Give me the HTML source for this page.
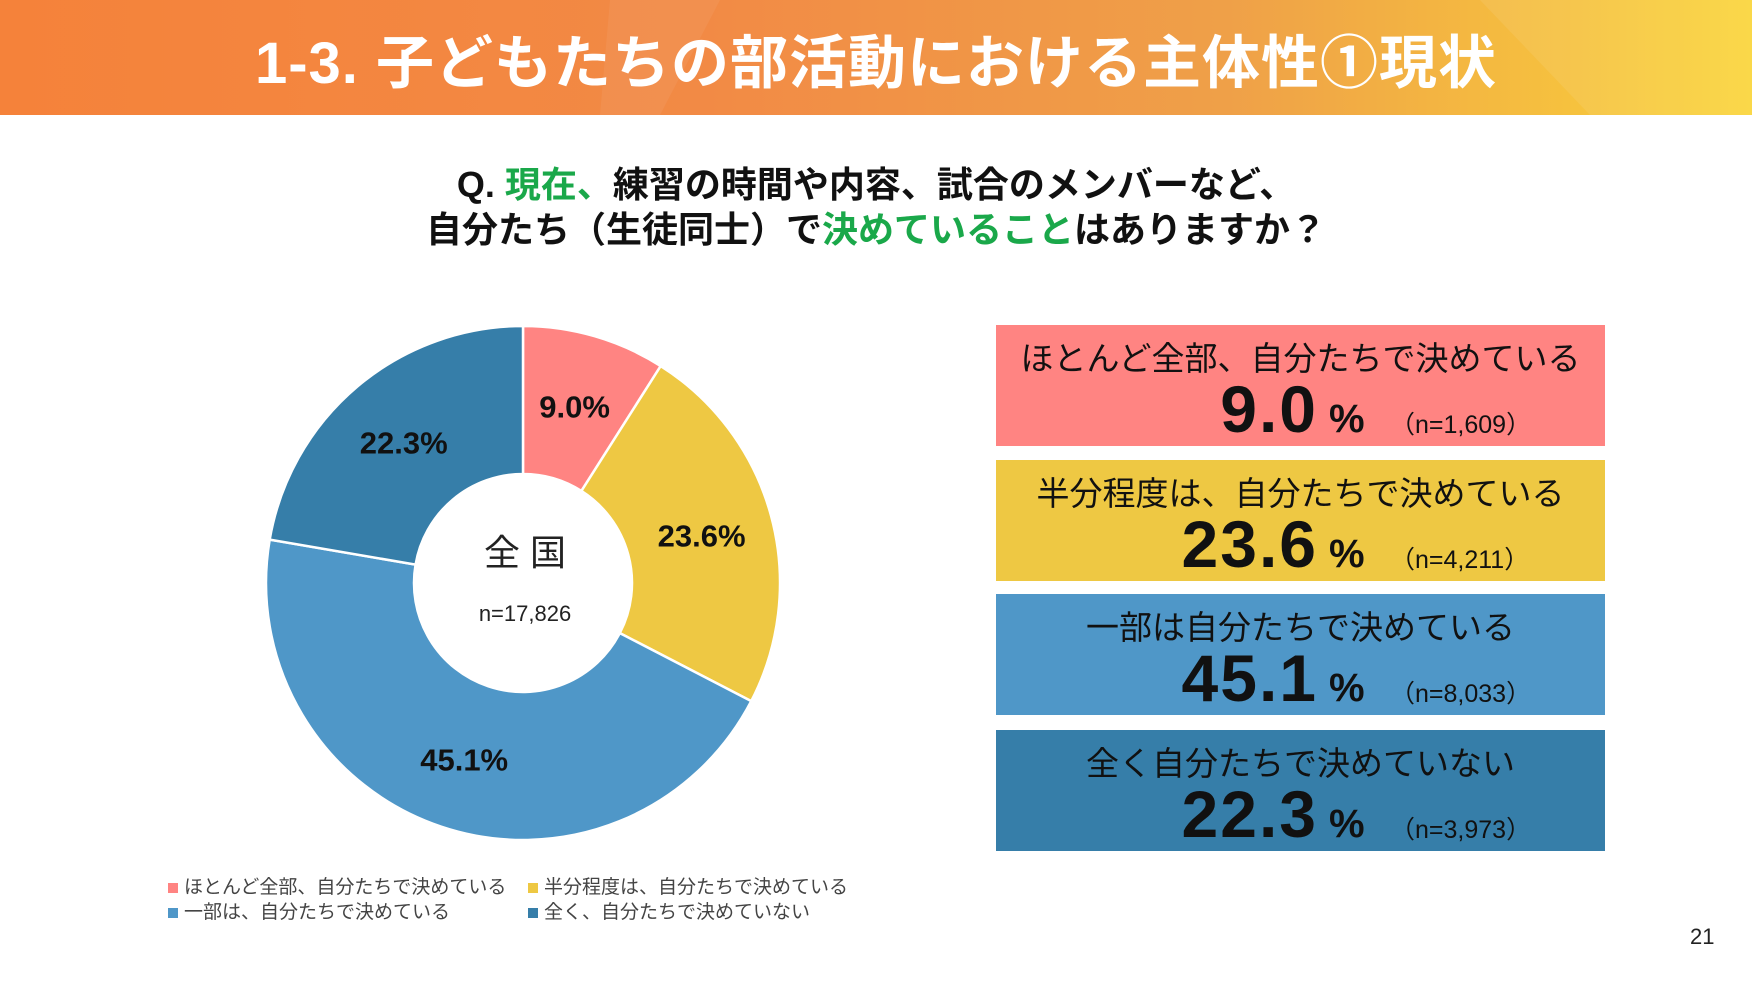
<!DOCTYPE html>
<html><head><meta charset="utf-8">
<style>
body{margin:0;width:1752px;height:984px;background:#fff;overflow:hidden;font-family:"Liberation Sans","Noto Sans CJK JP",sans-serif;position:relative}
.hdr{position:absolute;left:0;top:0;width:1752px;height:115px;background:linear-gradient(90deg,#f5823a 0%,#f28a45 40%,#efa048 70%,#f6c23e 90%,#fad53a 100%);overflow:hidden}
.hdr h1{position:absolute;left:0;right:0;top:16px;margin:0;text-align:center;color:#fff;font-size:58px;font-weight:bold;letter-spacing:1px}
.q{position:absolute;left:0;right:0;text-align:center;font-size:36px;font-weight:bold;color:#111}
.g{color:#1aa84a}
.box{position:absolute;left:996px;width:609px;height:121px;color:#111}
.box .t{position:absolute;left:0;right:0;top:7px;text-align:center;font-size:33px}
.box .v{position:absolute;top:46px;font-weight:bold;font-size:66px;right:287px;letter-spacing:2px}
.box .p{position:absolute;top:72px;left:333px;font-weight:bold;font-size:40px}
.box .n{position:absolute;top:80px;left:394px;font-size:25px}
.leg{position:absolute;font-size:19px;color:#444}
.leg span{display:inline-block;width:10px;height:10px;margin-right:6px}
</style></head><body>
<div class="hdr">
<svg width="1752" height="115" style="position:absolute;left:0;top:0"><polygon points="610,0 720,0 660,115 600,115" fill="#fff" opacity="0.06"/><polygon points="1480,0 1752,0 1752,115 1590,115" fill="#fff" opacity="0.08"/></svg>
<h1>1-3. 子どもたちの部活動における主体性①現状</h1>
</div>
<div class="q" style="top:156px">Q. <span class="g">現在、</span>練習の時間や内容、試合のメンバーなど、</div>
<div class="q" style="top:201px">自分たち（生徒同士）で<span class="g">決めていること</span>はありますか？</div>

<svg id="donut" width="1752" height="984" style="position:absolute;left:0;top:0"></svg>

<div class="box" style="top:325px;background:#ff8482"><div class="t">ほとんど全部、自分たちで決めている</div><div class="v">9.0</div><div class="p">%</div><div class="n">（n=1,609）</div></div>
<div class="box" style="top:460px;background:#eec843"><div class="t">半分程度は、自分たちで決めている</div><div class="v">23.6</div><div class="p">%</div><div class="n">（n=4,211）</div></div>
<div class="box" style="top:594px;background:#4f97c8"><div class="t">一部は自分たちで決めている</div><div class="v">45.1</div><div class="p">%</div><div class="n">（n=8,033）</div></div>
<div class="box" style="top:730px;background:#367ea9"><div class="t">全く自分たちで決めていない</div><div class="v">22.3</div><div class="p">%</div><div class="n">（n=3,973）</div></div>

<div class="leg" style="left:168px;top:872px"><span style="background:#ff8482"></span>ほとんど全部、自分たちで決めている</div>
<div class="leg" style="left:528px;top:872px"><span style="background:#eec843"></span>半分程度は、自分たちで決めている</div>
<div class="leg" style="left:168px;top:897px"><span style="background:#4f97c8"></span>一部は、自分たちで決めている</div>
<div class="leg" style="left:528px;top:897px"><span style="background:#367ea9"></span>全く、自分たちで決めていない</div>
<div style="position:absolute;left:1690px;top:924px;font-size:22px;color:#222">21</div>

<script>
const categories=["ほとんど全部","半分程度","一部","全く"];
const values=[9.0,23.6,45.1,22.3];
const colors=["#ff8482","#eec843","#4f97c8","#367ea9"];
const cx=523,cy=583,R=257,r=109,LR=185;
const svg=document.getElementById('donut');
const NS="http://www.w3.org/2000/svg";
const total=values.reduce((a,b)=>a+b,0);
function pt(a,rad){return [cx+rad*Math.sin(a),cy-rad*Math.cos(a)];}
let acc=0;
values.forEach((v,i)=>{
 const a0=acc/total*2*Math.PI;acc+=v;const a1=acc/total*2*Math.PI;
 const big=a1-a0>Math.PI?1:0;
 const [x0,y0]=pt(a0,R),[x1,y1]=pt(a1,R),[x2,y2]=pt(a1,r),[x3,y3]=pt(a0,r);
 const p=document.createElementNS(NS,'path');
 p.setAttribute('d',`M${x0},${y0}A${R},${R} 0 ${big} 1 ${x1},${y1}L${x2},${y2}A${r},${r} 0 ${big} 0 ${x3},${y3}Z`);
 p.setAttribute('fill',colors[i]);p.setAttribute('stroke','#fff');p.setAttribute('stroke-width','2.5');
 
 
 svg.appendChild(p);
 const [lx,ly]=pt((a0+a1)/2,LR);
 const t=document.createElementNS(NS,'text');
 t.setAttribute('x',lx);t.setAttribute('y',ly+12);t.setAttribute('text-anchor','middle');
 t.setAttribute('font-size','31');t.setAttribute('font-weight','bold');t.setAttribute('fill','#111');
 t.textContent=v.toFixed(1)+'%';
 
 
 svg.appendChild(t);
});
const c1=document.createElementNS(NS,'text');
c1.setAttribute('x',cx+2);c1.setAttribute('y',565);c1.setAttribute('text-anchor','middle');c1.setAttribute('font-size','36');c1.setAttribute('fill','#222');
c1.textContent='全 国';


svg.appendChild(c1);
const c2=document.createElementNS(NS,'text');
c2.setAttribute('x',cx+2);c2.setAttribute('y',621);c2.setAttribute('text-anchor','middle');c2.setAttribute('font-size','22');c2.setAttribute('fill','#222');
c2.textContent='n=17,826';


svg.appendChild(c2);
</script>
</body></html>
